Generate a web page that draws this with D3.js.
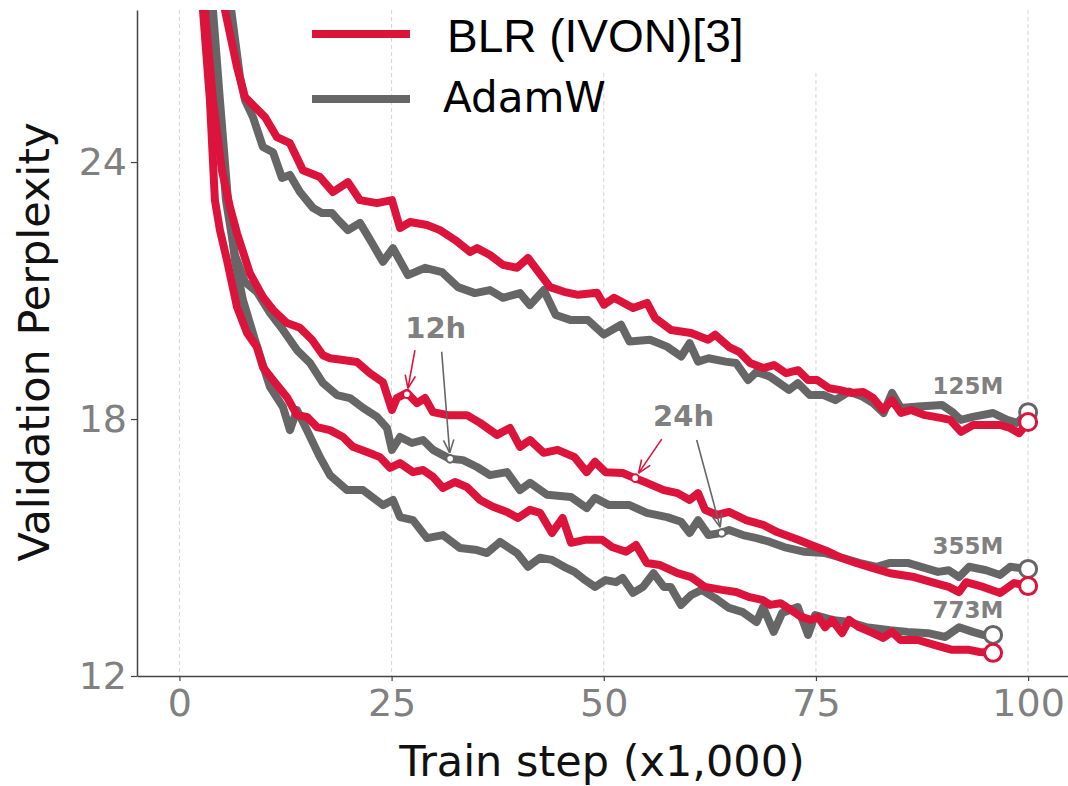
<!DOCTYPE html>
<html>
<head>
<meta charset="utf-8">
<script src="https://cdn.jsdelivr.net/npm/d3@7"></script>
<style>
  body { margin: 0; background: #fff; }
  svg { display: block; }
</style>
</head>
<body>
<script>
// ---- data (train step in thousands, validation perplexity) ----
var xTicks = [0, 25, 50, 75, 100];
var yTicks = [12, 18, 24];

var blr125 = [[5.0,28.8],[5.36,27.55],[6.78,26.22],[7.72,25.52],[8.31,25.40],[10.08,25.05],[11.49,24.58],[13.02,24.44],[14.55,23.81],[16.56,23.65],[18.09,23.30],[19.86,23.53],[21.27,23.11],[23.28,23.04],[25.04,23.11],[25.99,22.46],[27.17,22.60],[29.17,22.53],[30.70,22.41],[32.47,22.18],[34.24,21.90],[35.06,21.99],[36.59,21.83],[38.12,21.60],[39.78,21.53],[41.07,21.76],[43.67,21.08],[45.32,20.97],[46.97,20.90],[49.21,20.95],[50.03,20.67],[51.21,20.83],[53.45,20.59],[55.10,20.71],[56.04,20.36],[57.93,20.08],[60.29,20.01],[62.29,19.85],[63.12,19.97],[64.77,19.68],[65.95,19.57],[67.24,19.31],[68.78,19.19],[70.07,19.26],[71.49,19.07],[72.90,19.14],[74.08,18.91],[75.14,18.91],[76.55,18.72],[77.73,18.68],[79.15,18.61],[80.56,18.63],[81.74,18.49],[82.91,18.21],[83.97,18.44],[85.03,18.14],[86.21,18.21],[87.86,18.09],[89.86,18.02],[90.81,17.98],[92.10,17.70],[93.52,17.86],[95.05,17.86],[96.70,17.86],[97.88,17.79],[98.94,17.67],[100,17.93]];

var adam125 = [[5.7,28.8],[6.1,27.55],[7.13,25.99],[7.72,25.45],[8.66,25.05],[9.84,24.35],[11.02,24.23],[12.08,23.63],[13.02,23.70],[14.20,23.30],[15.73,22.93],[16.79,22.81],[17.97,22.81],[18.68,22.65],[19.86,22.41],[21.27,22.58],[22.69,22.11],[23.98,21.67],[25.16,21.99],[26.93,21.36],[28.93,21.53],[30.94,21.43],[32.82,21.08],[34.82,20.94],[36.59,21.01],[38.12,20.83],[40.13,20.94],[41.30,20.66],[42.92,21.01],[44.34,20.43],[46.14,20.31],[48.14,20.31],[50.01,19.97],[52.03,20.20],[53.03,19.81],[55.45,19.85],[57.45,19.69],[59.12,19.46],[60.12,19.77],[61.11,19.34],[62.35,19.42],[64.36,19.34],[65.59,19.31],[67.00,18.91],[68.00,19.10],[69.59,18.99],[71.83,18.68],[72.86,18.84],[74.27,18.56],[75.89,18.56],[77.30,18.44],[78.90,18.64],[80.54,18.52],[81.73,18.37],[82.97,18.14],[83.97,18.61],[84.99,18.26],[87.01,18.29],[89.84,18.33],[91.04,18.17],[92.07,17.98],[93.48,18.05],[95.87,18.14],[97.53,17.98],[98.70,17.91],[100,18.16]];

var blr355 = [[2.7,28.8],[3.0,27.55],[3.95,25.45],[5.0,23.81],[5.95,22.95],[6.78,22.34],[8.31,21.40],[9.84,20.85],[11.02,20.55],[12.67,20.24],[14.20,20.13],[15.62,19.85],[16.91,19.49],[17.74,19.42],[19.27,19.38],[20.92,19.33],[22.45,19.07],[23.98,18.86],[25.04,18.21],[25.63,18.49],[26.81,18.61],[27.99,18.37],[28.93,18.49],[29.88,18.16],[31.64,18.09],[33.88,18.09],[35.42,17.91],[37.42,17.63],[38.95,17.79],[40.13,17.35],[41.31,17.51],[42.92,17.21],[44.55,17.28],[46.56,17.11],[47.98,16.76],[48.97,17.00],[50.21,16.76],[52.23,16.74],[53.65,16.62],[55.06,16.51],[57.08,16.34],[58.70,16.27],[60.12,16.11],[61.11,16.27],[61.93,15.88],[63.35,15.76],[64.76,15.83],[66.77,15.64],[68.77,15.53],[70.42,15.36],[72.90,15.18],[74.43,15.06],[76.50,14.90],[77.73,14.78],[79.73,14.64],[81.74,14.52],[83.74,14.40],[86.57,14.31],[88.63,14.19],[90.65,14.08],[91.87,13.96],[92.69,14.19],[94.70,14.08],[96.70,13.94],[98.35,14.17],[100,14.10]];

var adam355 = [[3.4,28.8],[3.71,27.55],[4.54,25.45],[5.48,23.11],[6.54,21.83],[7.72,21.20],[9.13,20.97],[10.67,20.48],[12.20,20.08],[13.85,19.61],[15.38,19.31],[16.91,18.84],[18.56,18.56],[20.09,18.49],[21.63,18.26],[23.28,18.05],[24.45,17.79],[25.04,17.28],[25.99,17.58],[27.40,17.44],[28.70,17.51],[29.88,17.28],[31.88,17.07],[33.41,17.04],[35.06,16.88],[36.59,16.69],[38.60,16.76],[40.13,16.34],[41.31,16.51],[43.31,16.23],[46.14,16.18],[47.98,15.92],[48.97,16.16],[50.62,15.99],[53.03,15.99],[55.06,15.81],[57.45,15.71],[59.10,15.60],[60.12,15.34],[61.11,15.64],[62.35,15.29],[63.76,15.34],[64.76,15.41],[66.39,15.29],[68.00,15.22],[69.59,15.13],[71.24,15.01],[73.66,14.90],[76.08,14.87],[78.08,14.76],[80.09,14.64],[82.16,14.55],[83.74,14.64],[85.80,14.64],[87.39,14.55],[89.39,14.43],[90.65,14.47],[91.87,14.31],[93.05,14.55],[95.05,14.47],[96.70,14.36],[97.88,14.55],[100,14.50]];

var blr773 = [[2.5,28.8],[2.77,27.55],[3.59,25.45],[4.18,23.11],[4.77,22.41],[5.60,21.71],[6.78,20.62],[7.96,20.01],[9.13,19.68],[9.84,19.21],[11.02,18.91],[12.67,18.51],[13.85,18.09],[15.03,18.05],[16.21,17.81],[17.74,17.74],[19.27,17.58],[20.45,17.35],[22.10,17.23],[23.63,17.11],[24.81,16.86],[25.99,16.97],[27.52,16.76],[28.70,16.81],[29.88,16.65],[31.05,16.39],[32.47,16.53],[33.88,16.41],[35.42,16.11],[36.95,15.95],[38.60,15.83],[39.89,15.69],[41.31,15.88],[42.49,15.81],[43.90,15.34],[45.15,15.69],[46.14,15.11],[47.79,15.18],[49.79,15.18],[50.97,15.01],[52.62,14.90],[53.80,15.06],[55.06,14.64],[56.63,14.59],[58.70,14.40],[60.28,14.31],[61.93,14.08],[63.94,14.01],[65.59,13.96],[67.19,13.84],[68.77,13.77],[69.59,13.66],[70.83,13.70],[72.07,13.54],[73.25,13.38],[74.43,13.31],[75.25,13.38],[76.08,13.14],[76.90,13.31],[78.08,13.00],[78.91,13.31],[80.09,13.14],[81.74,13.00],[82.91,12.89],[83.97,13.03],[84.98,12.84],[87.01,12.84],[89.04,12.72],[91.04,12.61],[93.05,12.61],[94.30,12.56],[95.87,12.54]];

var adam773 = [[3.65,28.8],[3.95,27.55],[4.77,25.45],[5.72,23.11],[6.54,21.71],[7.48,20.78],[8.90,19.85],[9.84,19.26],[10.67,18.75],[12.20,18.28],[13.02,17.74],[13.85,18.21],[15.03,17.74],[16.56,17.11],[17.74,16.69],[19.74,16.34],[21.63,16.34],[23.98,15.99],[25.16,16.11],[25.99,15.71],[27.52,15.64],[29.17,15.22],[31.05,15.29],[33.06,14.99],[35.06,14.94],[36.24,14.87],[37.77,15.13],[39.78,14.87],[41.07,14.55],[42.49,14.76],[43.90,14.71],[45.32,14.55],[46.56,14.43],[47.79,14.24],[48.97,14.08],[50.21,14.24],[51.44,14.19],[52.23,14.29],[53.45,13.94],[54.63,14.08],[55.86,14.40],[57.08,14.08],[57.89,14.08],[59.10,13.66],[60.28,13.89],[61.53,14.01],[63.11,13.82],[64.76,13.59],[66.39,13.49],[68.00,13.26],[68.77,13.61],[70.02,13.03],[71.01,13.47],[72.86,13.61],[74.07,12.96],[74.90,13.42],[76.90,13.31],[78.90,13.26],[80.91,13.14],[83.74,13.07],[85.80,13.03],[88.21,13.00],[90.22,12.91],[91.87,13.14],[93.48,13.03],[94.70,12.96],[95.87,12.96]];

var sizeLabels = [["125M", 92.9, 18.58], ["355M", 92.9, 14.85], ["773M", 92.9, 13.35]];
// time marks: label, label pos, [marker x, y, tail x, tail y] for BLR then AdamW
var timeMarks = [
  { text: "12h", lx: 30.2, ly: 19.89, blr: [26.8, 18.58, 27.75, 19.61], adam: [31.9, 17.07, 30.9, 19.57] },
  { text: "24h", lx: 59.4, ly: 17.84, blr: [53.7, 16.62, 56.83, 17.53], adam: [63.9, 15.34, 60.95, 17.51] }
];

var red = "#dc143c", gray = "#666666", labelGray = "#808080";

var width = 1068, height = 786;
var x = d3.scaleLinear().domain([-5, 104.7]).range([137, 1068]);
var y = d3.scaleLinear().domain([12, 27.55]).range([676, 10]);

var svg = d3.select("body").append("svg")
    .attr("width", width)
    .attr("height", height);

svg.append("defs").append("clipPath").attr("id", "plotclip")
  .append("rect").attr("x", 137).attr("y", 10).attr("width", 931).attr("height", 666);

// vertical grid
svg.append("g").selectAll("line")
    .data(xTicks)
  .enter().append("line")
    .attr("x1", function(d) { return x(d); })
    .attr("x2", function(d) { return x(d); })
    .attr("y1", 10).attr("y2", 676)
    .attr("stroke", "#d4d4d4")
    .attr("stroke-width", 1)
    .attr("stroke-dasharray", "4,3");

var line = d3.line()
    .x(function(d) { return x(d[0]); })
    .y(function(d) { return y(d[1]); });

var series = [
  { data: adam125, color: gray }, { data: adam355, color: gray }, { data: adam773, color: gray },
  { data: blr125, color: red }, { data: blr355, color: red }, { data: blr773, color: red }
];

var curves = svg.append("g").attr("clip-path", "url(#plotclip)");
series.forEach(function(s) {
  curves.append("path")
      .attr("d", line(s.data))
      .attr("fill", "none")
      .attr("stroke", s.color)
      .attr("stroke-width", 8)
      .attr("stroke-linejoin", "round");
});

// open circles at the end of each run
series.forEach(function(s) {
  var last = s.data[s.data.length - 1];
  svg.append("circle")
      .attr("cx", x(last[0])).attr("cy", y(last[1]))
      .attr("r", 8.5)
      .attr("fill", "#fff")
      .attr("stroke", s.color)
      .attr("stroke-width", 3);
});

// axes
var xAxis = svg.append("g")
    .attr("transform", "translate(0,676)")
    .call(d3.axisBottom(x).tickValues(xTicks).tickSize(5).tickSizeOuter(0).tickPadding(8));
var yAxis = svg.append("g")
    .attr("transform", "translate(137,0)")
    .call(d3.axisLeft(y).tickValues(yTicks).tickSize(6).tickSizeOuter(0).tickPadding(4));

[xAxis, yAxis].forEach(function(a) {
  a.select(".domain").attr("stroke", "#444").attr("stroke-width", 1.5);
  a.selectAll(".tick line").attr("stroke", "#444").attr("stroke-width", 1.2);
  a.selectAll(".tick text")
      .attr("fill", labelGray)
      .style("font-family", "DejaVu Sans")
      .style("font-size", "38px");
});

svg.append("text")
    .attr("x", 602).attr("y", 776)
    .attr("text-anchor", "middle")
    .style("font-family", "DejaVu Sans")
    .style("font-size", "43px")
    .attr("fill", "#111")
    .text("Train step (x1,000)");

svg.append("text")
    .attr("transform", "translate(49,342) rotate(-90)")
    .attr("text-anchor", "middle")
    .style("font-family", "DejaVu Sans")
    .style("font-size", "43px")
    .attr("fill", "#111")
    .text("Validation Perplexity");

// model size labels
svg.append("g").selectAll("text")
    .data(sizeLabels)
  .enter().append("text")
    .attr("x", function(d) { return x(d[1]); })
    .attr("y", function(d) { return y(d[2]); })
    .attr("text-anchor", "middle")
    .style("font-family", "DejaVu Sans")
    .style("font-weight", "bold")
    .style("font-size", "23px")
    .attr("fill", labelGray)
    .text(function(d) { return d[0]; });

// arrows to the 12h / 24h points
function arrow(m, color) {
  var x2 = x(m[0]), y2 = y(m[1]), x1 = x(m[2]), y1 = y(m[3]);
  var ang = Math.atan2(y2 - y1, x2 - x1);
  var tx = x2 - 6 * Math.cos(ang), ty = y2 - 6 * Math.sin(ang);
  svg.append("line")
      .attr("x1", x1).attr("y1", y1).attr("x2", tx).attr("y2", ty)
      .attr("stroke", color).attr("stroke-width", 1.6);
  [-0.38, 0.38].forEach(function(a) {
    svg.append("line")
        .attr("x1", tx).attr("y1", ty)
        .attr("x2", tx - 14 * Math.cos(ang + a))
        .attr("y2", ty - 14 * Math.sin(ang + a))
        .attr("stroke", color).attr("stroke-width", 1.6);
  });
  svg.append("circle")
      .attr("cx", x2).attr("cy", y2).attr("r", 3.8)
      .attr("fill", "#fff").attr("stroke", color).attr("stroke-width", 2);
}

timeMarks.forEach(function(t) {
  arrow(t.blr, red);
  arrow(t.adam, gray);
  svg.append("text")
      .attr("x", x(t.lx)).attr("y", y(t.ly))
      .attr("text-anchor", "middle")
      .style("font-family", "DejaVu Sans")
      .style("font-weight", "bold")
      .style("font-size", "29px")
      .attr("fill", labelGray)
      .text(t.text);
});

// legend
svg.append("rect").attr("x", 430).attr("y", 0).attr("width", 430).attr("height", 72).attr("fill", "#fff");
svg.append("line").attr("x1", 312).attr("x2", 410).attr("y1", 34).attr("y2", 34)
    .attr("stroke", red).attr("stroke-width", 8);
svg.append("line").attr("x1", 312).attr("x2", 410).attr("y1", 99).attr("y2", 99)
    .attr("stroke", gray).attr("stroke-width", 8);
svg.append("text").attr("x", 447).attr("y", 52)
    .style("font-family", "Liberation Sans")
    .style("font-size", "46px")
    .attr("fill", "#000")
    .text("BLR (IVON)[3]");
svg.append("text").attr("x", 443).attr("y", 112)
    .style("font-family", "DejaVu Sans")
    .style("font-size", "42px")
    .attr("fill", "#000")
    .text("AdamW");
</script>
</body>
</html>
